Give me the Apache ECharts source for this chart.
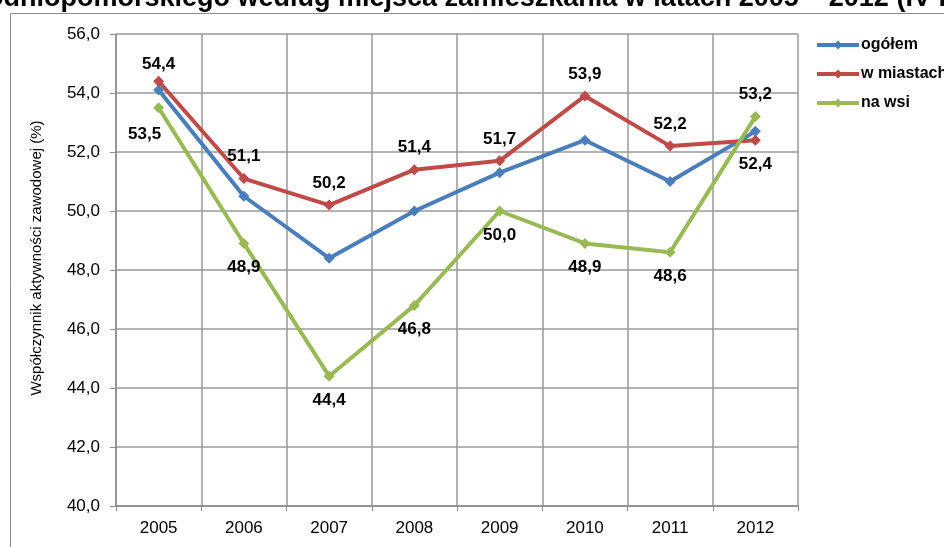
<!DOCTYPE html>
<html>
<head>
<meta charset="utf-8">
<script src="https://cdn.jsdelivr.net/npm/echarts@6/dist/echarts.min.js"></script>
<style>
    html, body { margin: 0; padding: 0; background: #fff; }
    #chart { width: 944px; height: 547px; }
</style>
</head>
<body>
<div id="chart"></div>
<script>
    var years = ['2005', '2006', '2007', '2008', '2009', '2010', '2011', '2012'];
    var ogolem = [54.1, 50.5, 48.4, 50.0, 51.3, 52.4, 51.0, 52.7];
    var wMiastach = [54.4, 51.1, 50.2, 51.4, 51.7, 53.9, 52.2, 52.4];
    var naWsi = [53.5, 48.9, 44.4, 46.8, 50.0, 48.9, 48.6, 53.2];
    var yTicks = [40, 42, 44, 46, 48, 50, 52, 54, 56];

    // where each data label sits (per point)
    var miastaLabelPos = ['top', 'top', 'top', 'top', 'top', 'top', 'top', 'bottom'];
    var wsiLabelPos = ['bottom', 'bottom', 'bottom', 'bottom', 'bottom', 'bottom', 'bottom', 'top'];

    function fmt(v) {
        return v.toFixed(1).replace('.', ',');
    }

    var labelStyle = {
        show: true,
        fontFamily: 'Arial, "Liberation Sans", sans-serif',
        fontSize: 17,
        fontWeight: 'bold',
        color: '#000',
        formatter: function (p) { return fmt(p.value); }
    };

    function withLabels(values, positions, offsets) {
        return values.map(function (v, i) {
            var lbl = {
                position: positions[i],
                distance: positions[i] === 'top' ? 8 : 10
            };
            if (offsets && offsets[i]) lbl.offset = offsets[i];
            return { value: v, label: lbl };
        });
    }

    var chart = echarts.init(document.getElementById('chart'));
    var option = {
        animation: false,
        textStyle: { fontFamily: 'Arial, "Liberation Sans", sans-serif' },
        color: ['#4A7EBB', '#BE4B48', '#98B954'],
        graphic: [
            {
                type: 'rect',
                shape: { x: 10.5, y: 13.5, width: 1000, height: 600 },
                style: { fill: 'none', stroke: '#8c8c8c', lineWidth: 1 },
                silent: true
            },
            {
                type: 'text',
                x: -73, y: -1,
                style: {
                    text: 'zachodniopomorskiego według miejsca zamieszkania w latach 2005 – 2012 (IV kwartał)',
                    font: 'bold 27px Arial, "Liberation Sans", sans-serif',
                    fill: '#000',
                    verticalAlign: 'middle'
                }
            },
            {
                type: 'text',
                x: 37, y: 258,
                rotation: Math.PI / 2,
                style: {
                    text: 'Współczynnik aktywności zawodowej (%)',
                    font: '15px Arial, "Liberation Sans", sans-serif',
                    fill: '#000',
                    align: 'center',
                    verticalAlign: 'middle'
                }
            }
        ],
        legend: {
            orient: 'vertical',
            left: 810,
            top: 32,
            itemWidth: 42,
            itemHeight: 11,
            itemGap: 13,
            lineStyle: { width: 4 },
            textStyle: { fontSize: 16, fontWeight: 'bold', color: '#000', padding: [0, 0, 0, -3] },
            data: ['ogółem', 'w miastach', 'na wsi']
        },
        grid: { left: 116, right: 146, top: 34, bottom: 41 },
        xAxis: {
            type: 'category',
            data: years,
            boundaryGap: true,
            axisLine: { lineStyle: { color: '#8c8c8c', width: 1.5 } },
            axisTick: { show: true, length: 5, lineStyle: { color: '#8c8c8c' } },
            axisLabel: { fontSize: 17, color: '#000', margin: 14 },
            splitLine: { show: true, lineStyle: { color: '#999', width: 1.5 } }
        },
        yAxis: {
            type: 'value',
            min: yTicks[0],
            max: yTicks[yTicks.length - 1],
            interval: 2,
            axisLine: { show: true, lineStyle: { color: '#8c8c8c', width: 1.5 } },
            axisTick: { show: true, length: 6, lineStyle: { color: '#8c8c8c' } },
            axisLabel: {
                fontSize: 17, color: '#000', margin: 16,
                formatter: function (v) { return fmt(v); }
            },
            splitLine: { show: true, lineStyle: { color: '#999', width: 1.5 } }
        },
        series: [
            {
                name: 'ogółem',
                type: 'line',
                data: ogolem,
                symbol: 'diamond',
                symbolSize: 11,
                lineStyle: { width: 4 }
            },
            {
                name: 'w miastach',
                type: 'line',
                data: withLabels(wMiastach, miastaLabelPos, { 0: [0, 5] }),
                symbol: 'diamond',
                symbolSize: 11,
                lineStyle: { width: 4 },
                label: labelStyle
            },
            {
                name: 'na wsi',
                type: 'line',
                data: withLabels(naWsi, wsiLabelPos, { 0: [-14, 3] }),
                symbol: 'diamond',
                symbolSize: 11,
                lineStyle: { width: 4 },
                label: labelStyle
            }
        ]
    };
    chart.setOption(option);
</script>
</body>
</html>
